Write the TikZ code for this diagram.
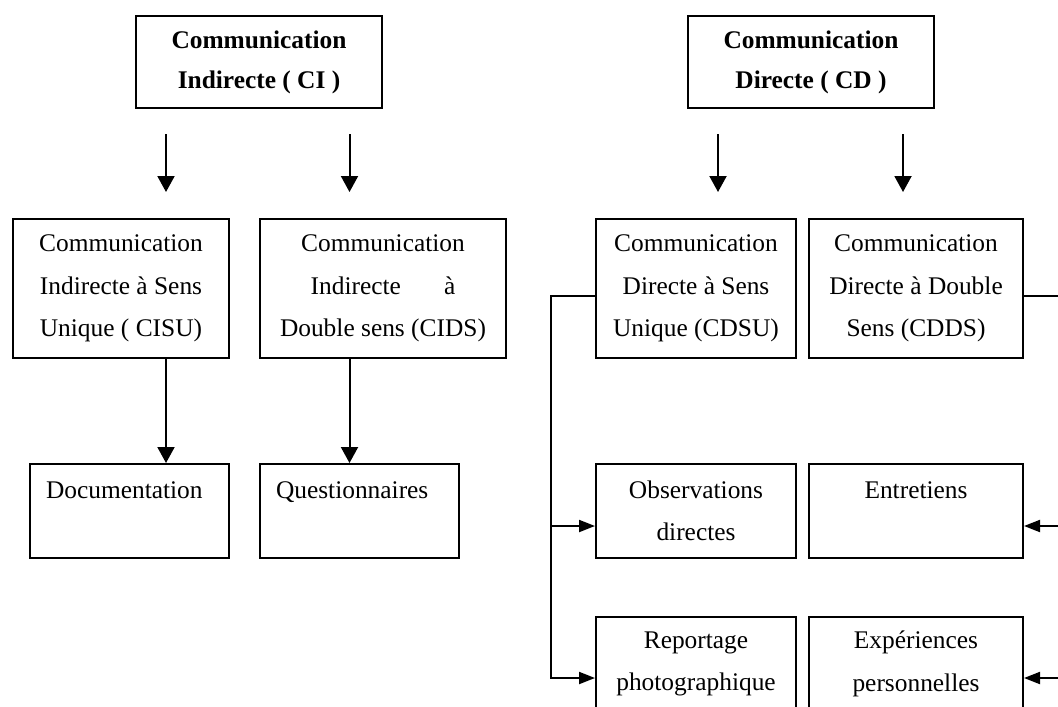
\documentclass[tikz,border=0pt]{standalone}
\usepackage{fontspec}
\setmainfont{Liberation Serif}
\usetikzlibrary{arrows.meta}

\begin{document}
\begin{tikzpicture}[
  x=0.5pt, y=-0.5pt,
  font=\fontsize{12.7}{21.3}\selectfont,
  >={Triangle[length=8pt,width=8.5pt]},
  blk/.style  = {draw, line width=1pt, align=center, inner sep=0pt,
                 minimum width=#1, fill=white},
  head/.style = {blk=123pt, minimum height=46pt,
                 font=\fontsize{12.7}{20}\selectfont\bfseries},
  kind/.style = {blk=#1, minimum height=69.5pt},
  tool/.style = {blk=#1, minimum height=47pt},
  memo/.style = {tool=99.5pt, align=left, text width=83.5pt},
  flow/.style = {->, line width=1pt},
  side/.style = {-{Triangle[length=8pt,width=6pt]}, line width=1pt}
]
\clip (0,0) rectangle (1058,706);

% ---------------- indirect side ----------------
\node[head] (ci) at (259,62) {Communication\\Indirecte ( CI )};
\node[kind=108pt] (cisu) at (121,288.5)
  {Communication\\Indirecte à Sens\\Unique ( CISU)};
\node[kind=123pt] (cids) at (383,288.5)
  {Communication\\Indirecte \hspace{1.2em} à\\Double sens (CIDS)};
\node[memo] (doc)   at (129.5,511) {Documentation\\~};
\node[memo] (quest) at (359.5,511) {Questionnaires\\~};

% ---------------- direct side ----------------
\node[head] (cd) at (811,62) {Communication\\Directe ( CD )};
\node[kind=100pt] (cdsu) at (696,288.5)
  {Communication\\Directe à Sens\\Unique (CDSU)};
\node[kind=107pt] (cdds) at (916,288.5)
  {Communication\\Directe à Double\\Sens (CDDS)};
\node[tool=100pt] (obs) at (696,511) {Observations\\directes};
\node[tool=107pt] (ent) at (916,511) {Entretiens\\~};
\node[tool=100pt] (rep) at (696,664) {Reportage\\photographique};
\node[tool=107pt] (exp) at (916,664) {Expériences\\personnelles};

% arrow columns and bus lines
\coordinate (lx)   at (166,0);
\coordinate (rx)   at (349.5,0);
\coordinate (dlx)  at (718,0);
\coordinate (drx)  at (903,0);
\coordinate (lbus) at (551,296);
\coordinate (rbus) at (1075,296);
\coordinate (yobs) at (0,526);
\coordinate (yrep) at (0,678);

\draw[flow, shorten <=12.5pt, shorten >=13pt] (ci.south -| lx)  -- (cisu.north -| lx);
\draw[flow, shorten <=12.5pt, shorten >=13pt] (ci.south -| rx)  -- (cids.north -| rx);
\draw[flow, shorten <=12.5pt, shorten >=13pt] (cd.south -| dlx) -- (cdsu.north -| dlx);
\draw[flow, shorten <=12.5pt, shorten >=13pt] (cd.south -| drx) -- (cdds.north -| drx);

\draw[flow] (cisu.south -| lx) -- (doc.north -| lx);
\draw[flow] (cids.south -| rx) -- (quest.north -| rx);

\draw[side] (cdsu.west |- lbus) -- (lbus) |- (rep.west |- yrep);
\draw[side] (lbus |- yobs) -- (obs.west |- yobs);
\draw[side] (cdds.east |- rbus) -- (rbus) |- (exp.east |- yrep);
\draw[side] (rbus |- yobs) -- (ent.east |- yobs);

\end{tikzpicture}
\end{document}
